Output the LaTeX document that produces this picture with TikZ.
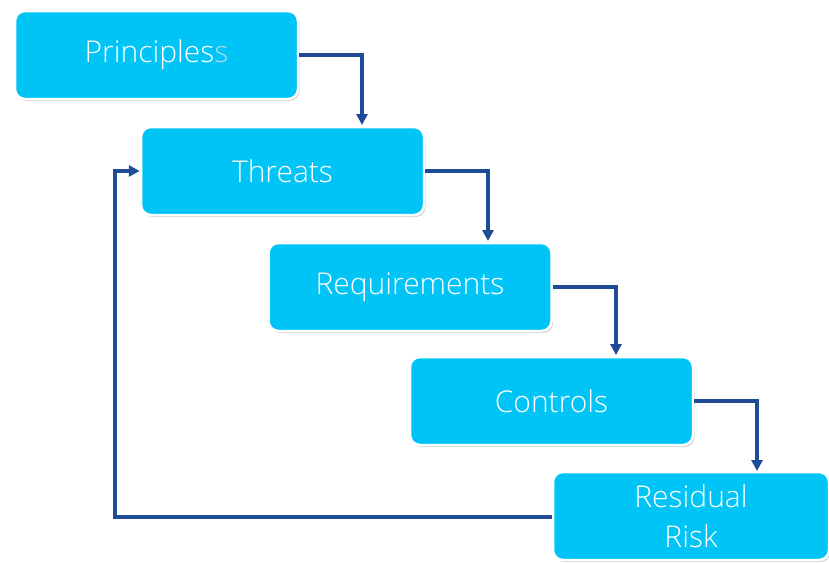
\documentclass[tikz,border=0pt]{standalone}
\usepackage{fontspec}
\setmainfont{Open Sans}[UprightFont={* Light}]
\usetikzlibrary{shadows,arrows.meta}
\definecolor{boxcyan}{HTML}{00C4F5}
\definecolor{arrowblue}{HTML}{1F4A96}
\definecolor{fadedS}{HTML}{A9D7EA}
\tikzset{
  stepbox/.style={draw=white, line width=2.5pt, fill=boxcyan, rounded corners=10pt,
    minimum width=283pt, minimum height=88pt, inner sep=0pt, text=white,
    font=\fontsize{30}{40}\selectfont, align=center,
    drop shadow={shadow xshift=1.5pt, shadow yshift=-2pt, opacity=0.3, fill=black!60}},
  flow/.style={draw=arrowblue, line width=3.6pt, -{Triangle[length=11pt,width=11pt]}}
}
\begin{document}
\begin{tikzpicture}[x=1pt,y=-1pt]
\useasboundingbox[fill=white] (0,0) rectangle (829,562);
\node[stepbox] (p) at (156.5,55) {Principles\textcolor{fadedS}{s}};
\node[stepbox] (t) at (282.5,171) {Threats};
\node[stepbox] (r) at (410,287) {Requirements};
\node[stepbox] (c) at (551.5,401) {Controls};
\node[stepbox, minimum width=276pt] (rr) at (691,516) {Residual\\Risk};
\draw[flow] (p.east) -| (362,125);
\draw[flow] (t.east) -| (488,241);
\draw[flow] (r.east) -| (616,355);
\draw[flow] (c.east) -| (757,471);
\coordinate (fb) at (115,517);
\draw[flow] (rr.west |- fb) -- (fb) |- (t.west);
\end{tikzpicture}
\end{document}
